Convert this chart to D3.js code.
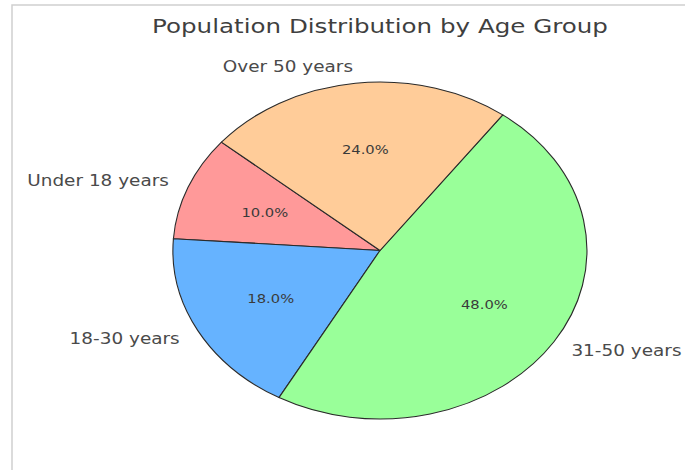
<!DOCTYPE html>
<html>
<head>
<meta charset="utf-8">
<script src="https://cdn.jsdelivr.net/npm/d3@7"></script>
<style>
  html, body { margin: 0; padding: 0; background: #fff; }
  svg { display: block; font-family: "DejaVu Sans", sans-serif; }
</style>
</head>
<body>
<svg id="chart" width="685" height="470"></svg>
<script>
const title = "Population Distribution by Age Group";
const categories = ["Under 18 years", "18-30 years", "31-50 years", "Over 50 years"];
const values = [10, 18, 48, 24];
const colors = ["#ff9999", "#66b3ff", "#99ff99", "#ffcc99"];
const startAngleDeg = 140; // counter-clockwise from +x, matplotlib style

const W = 685, H = 470;
const cx = 380, cy = 250.5, rx = 207, ry = 168.5;
const stretch = rx / ry;

const svg = d3.select("#chart");

// frame
svg.append("rect")
  .attr("x", 12).attr("y", 5).attr("width", 760).attr("height", 520)
  .attr("fill", "none").attr("stroke", "#cfcfcf").attr("stroke-width", 1.5);

const data = categories.map((c, i) => ({ cat: c, value: values[i], color: colors[i] }));
const total = d3.sum(values);

const a0 = (90 - startAngleDeg) * Math.PI / 180;
const pie = d3.pie().value(d => d.value).sort(null)
  .startAngle(a0).endAngle(a0 - 2 * Math.PI);
const arcs = pie(data);
const arc = d3.arc().innerRadius(0).outerRadius(1);

const g = svg.append("g").attr("transform", `translate(${cx},${cy}) scale(${rx},${ry})`);
g.selectAll("path").data(arcs).join("path")
  .attr("d", arc)
  .attr("fill", d => d.data.color)
  .attr("stroke", "#2a2a2a")
  .attr("stroke-width", 1.1)
  .attr("vector-effect", "non-scaling-stroke");

function pos(d, r) {
  const m = (d.startAngle + d.endAngle) / 2;
  return [cx + r * rx * Math.sin(m), cy - r * ry * Math.cos(m)];
}

// category labels
svg.selectAll("text.lab").data(arcs).join("text")
  .attr("class", "lab")
  .attr("transform", d => { const p = pos(d, 1.1); return `translate(${p[0]},${p[1]}) scale(${stretch},1)`; })
  .attr("text-anchor", d => pos(d, 1.1)[0] < cx ? "end" : "start")
  .attr("dominant-baseline", "central")
  .attr("font-size", 15)
  .attr("fill", "#4a4a4a")
  .text(d => d.data.cat);

// percentage labels
svg.selectAll("text.pct").data(arcs).join("text")
  .attr("class", "pct")
  .attr("transform", d => { const p = pos(d, 0.6); return `translate(${p[0]},${p[1]}) scale(${stretch},1)`; })
  .attr("text-anchor", "middle")
  .attr("dominant-baseline", "central")
  .attr("font-size", 12)
  .attr("fill", "#3a3a3a")
  .text(d => (100 * d.data.value / total).toFixed(1) + "%");

// title
svg.append("text")
  .attr("transform", `translate(${cx},33) scale(${stretch},1)`)
  .attr("text-anchor", "middle")
  .attr("font-size", 20)
  .attr("fill", "#3f3f3f")
  .text(title);
</script>
</body>
</html>
